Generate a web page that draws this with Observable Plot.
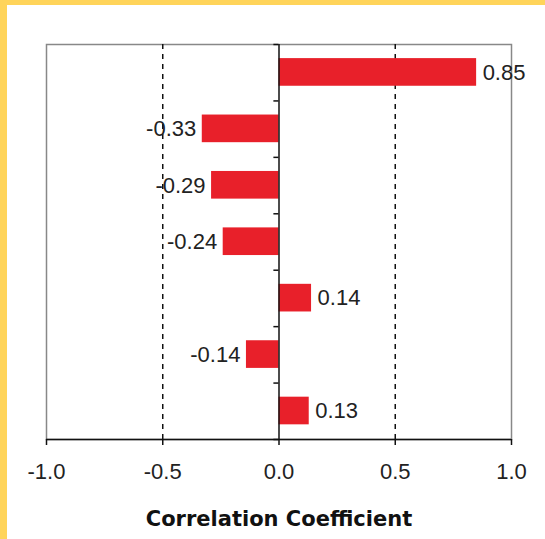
<!DOCTYPE html>
<html>
<head>
<meta charset="utf-8">
<script src="https://cdn.jsdelivr.net/npm/d3@7"></script>
<script src="https://cdn.jsdelivr.net/npm/@observablehq/plot@0.6"></script>
<style>
  html, body { margin: 0; padding: 0; background: #fff; }
  body { width: 538px; height: 534px; border-top: 5px solid #FFD45A; border-left: 7px solid #FFD45A; overflow: hidden; }
  #chart svg { display: block; }
  #chart svg [aria-label="x-axis label"] text { font-family: "DejaVu Sans", Verdana, sans-serif; font-weight: bold; font-size: 21px; fill: #111; }
</style>
</head>
<body>
<div id="chart"></div>
<script>
const categories = ["A", "B", "C", "D", "E", "F", "G"];
const values = [0.85, -0.33, -0.29, -0.24, 0.14, -0.14, 0.13];
const xTicks = [-1.0, -0.5, 0.0, 0.5, 1.0];
const guideLines = [-0.5, 0.5];

const data = categories.map((c, i) => ({category: c, index: i, value: values[i]}));
const boundaries = d3.range(categories.length + 1);
const fmtTick = d => d.toFixed(1);
const fmtVal = d => d.value.toFixed(2);

const chart = Plot.plot({
  width: 538,
  height: 534,
  marginLeft: 39,
  marginRight: 34,
  marginTop: 39,
  marginBottom: 100,
  style: {fontFamily: "Liberation Sans, Arial, sans-serif", fontSize: "22px", color: "#222", background: "#fff"},
  x: {domain: [-1, 1], ticks: xTicks, tickFormat: fmtTick, label: "Correlation Coefficient", labelArrow: "none"},
  y: {domain: [0, categories.length], reverse: true, axis: null},
  marks: [
    Plot.frame({stroke: "#888", strokeWidth: 1.5}),
    Plot.ruleX(guideLines, {stroke: "#111", strokeWidth: 1.5, strokeDasharray: "5,5"}),
    Plot.rectX(data, {x1: 0, x2: "value", y1: d => d.index + 0.25, y2: d => d.index + 0.74, fill: "#E8202A"}),
    Plot.ruleX([0], {stroke: "#111", strokeWidth: 1.5}),
    Plot.ruleY(boundaries, {y: d => d, x1: -0.022, x2: 0, stroke: "#111", strokeWidth: 1.5}),
    Plot.ruleY([0], {y: () => categories.length, stroke: "#111", strokeWidth: 1.5}),
    Plot.text(data.filter(d => d.value >= 0), {
      x: "value", y: d => d.index + 0.5, text: fmtVal,
      textAnchor: "start", dx: 6, fill: "#222", fontSize: 22
    }),
    Plot.text(data.filter(d => d.value < 0), {
      x: "value", y: d => d.index + 0.5, text: fmtVal,
      textAnchor: "end", dx: -6, fill: "#222", fontSize: 22
    }),
    Plot.axisX({
      ticks: xTicks,
      tickFormat: fmtTick,
      tickSize: 6,
      tickPadding: 18,
      stroke: "#111",
      strokeWidth: 1.5,
      fontSize: 22,
      fill: "#222",
      label: "Correlation Coefficient",
      labelAnchor: "center",
      labelArrow: "none",
      labelOffset: 86
    })
  ]
});
document.getElementById("chart").appendChild(chart);
</script>
</body>
</html>
